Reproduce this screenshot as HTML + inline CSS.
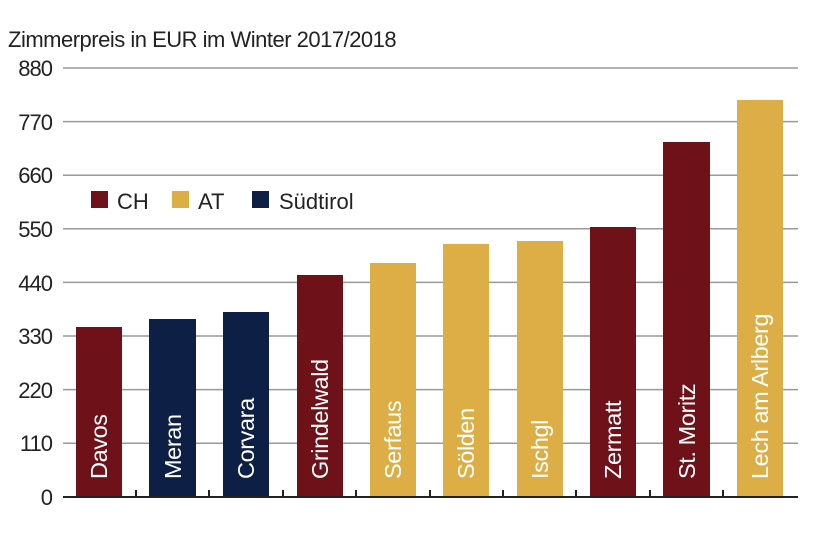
<!DOCTYPE html>
<html><head><meta charset="utf-8"><style>
body{margin:0;background:#fff}
svg{display:block}
text{font-family:"Liberation Sans",sans-serif}
</style></head><body>
<svg width="820" height="539" viewBox="0 0 820 539" xmlns="http://www.w3.org/2000/svg">
<rect width="820" height="539" fill="#fff"/>
<text x="8" y="47" font-size="22" fill="#222" letter-spacing="-0.5">Zimmerpreis in EUR im Winter 2017/2018</text>
<g stroke="#999" stroke-width="1.5">
<line x1="63" x2="798" y1="68" y2="68"/>
<line x1="63" x2="798" y1="121.6" y2="121.6"/>
<line x1="63" x2="798" y1="175.2" y2="175.2"/>
<line x1="63" x2="798" y1="228.8" y2="228.8"/>
<line x1="63" x2="798" y1="282.4" y2="282.4"/>
<line x1="63" x2="798" y1="336" y2="336"/>
<line x1="63" x2="798" y1="389.6" y2="389.6"/>
<line x1="63" x2="798" y1="443.2" y2="443.2"/>
</g>
<g font-size="22" fill="#222" text-anchor="end" letter-spacing="-1">
<text x="52" y="76">880</text><text x="52" y="130">770</text><text x="52" y="183">660</text>
<text x="52" y="237">550</text><text x="52" y="291">440</text><text x="52" y="344">330</text>
<text x="52" y="398">220</text><text x="52" y="451">110</text><text x="52" y="505">0</text>
</g>
<rect x="91" y="191" width="17" height="17" fill="#6e1119"/><text x="117" y="209" font-size="22" fill="#222">CH</text>
<rect x="172" y="191" width="17" height="17" fill="#dcae45"/><text x="198" y="209" font-size="22" fill="#222">AT</text>
<rect x="252" y="191" width="17" height="17" fill="#0d1f44"/><text x="279" y="209" font-size="22" fill="#222">Südtirol</text>
<g>
<rect x="76" y="327" width="46" height="170" fill="#6e1119"/>
<rect x="149" y="319" width="47" height="178" fill="#0d1f44"/>
<rect x="223" y="312" width="46" height="185" fill="#0d1f44"/>
<rect x="297" y="275" width="46" height="222" fill="#6e1119"/>
<rect x="370" y="263" width="46" height="234" fill="#dcae45"/>
<rect x="443" y="244" width="46" height="253" fill="#dcae45"/>
<rect x="517" y="241" width="46" height="256" fill="#dcae45"/>
<rect x="590" y="227" width="46" height="270" fill="#6e1119"/>
<rect x="663" y="142" width="47" height="355" fill="#6e1119"/>
<rect x="737" y="100" width="46" height="397" fill="#dcae45"/>
</g>
<g font-size="23.5" fill="#fff" letter-spacing="-0.4">
<text transform="translate(107,479) rotate(-90)">Davos</text>
<text transform="translate(181,479) rotate(-90)">Meran</text>
<text transform="translate(254,479) rotate(-90)">Corvara</text>
<text transform="translate(328,479) rotate(-90)">Grindelwald</text>
<text transform="translate(401,479) rotate(-90)">Serfaus</text>
<text transform="translate(474,479) rotate(-90)">Sölden</text>
<text transform="translate(548,479) rotate(-90)">Ischgl</text>
<text transform="translate(621,479) rotate(-90)">Zermatt</text>
<text transform="translate(695,479) rotate(-90)">St. Moritz</text>
<text transform="translate(768,479) rotate(-90)">Lech am Arlberg</text>
</g>
<line x1="63" x2="798" y1="497" y2="497" stroke="#222" stroke-width="2"/>
<g stroke="#222" stroke-width="2">
<line x1="136" x2="136" y1="490" y2="497"/><line x1="209" x2="209" y1="490" y2="497"/>
<line x1="283" x2="283" y1="490" y2="497"/><line x1="356" x2="356" y1="490" y2="497"/>
<line x1="430" x2="430" y1="490" y2="497"/><line x1="503" x2="503" y1="490" y2="497"/>
<line x1="576" x2="576" y1="490" y2="497"/><line x1="650" x2="650" y1="490" y2="497"/>
<line x1="723" x2="723" y1="490" y2="497"/>
</g>
</svg>
</body></html>
